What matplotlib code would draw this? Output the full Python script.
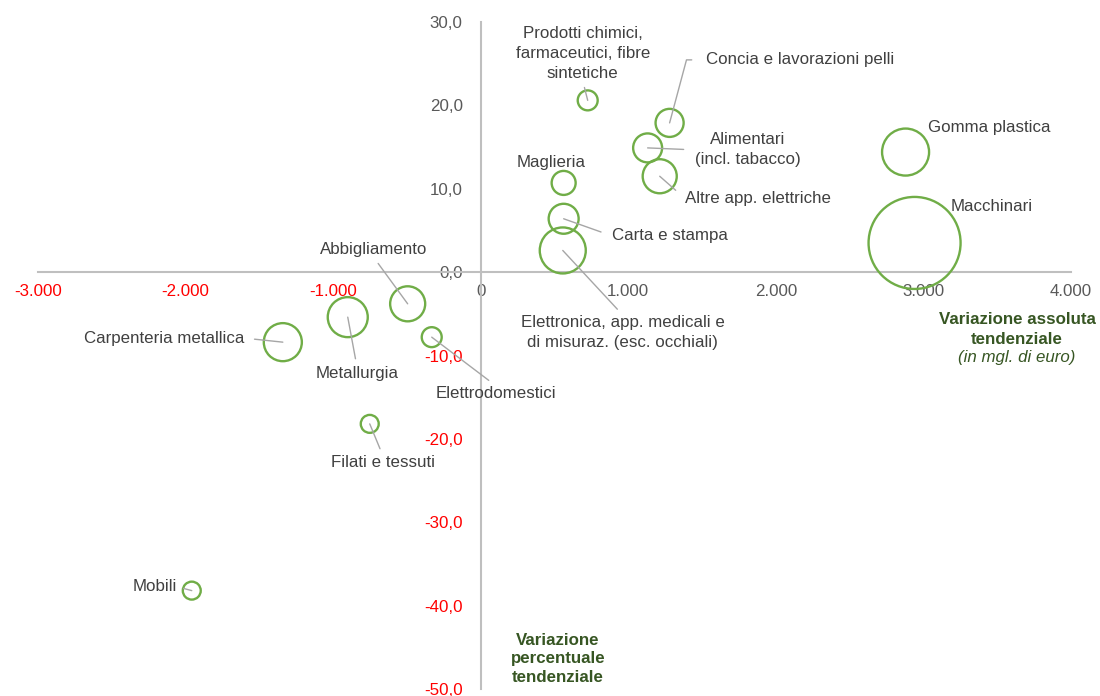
import numpy as np
import matplotlib.pyplot as plt
from matplotlib.ticker import FuncFormatter

# Dati: variazione assoluta (mgl. euro), variazione percentuale, dimensione bolla
settori = ['Mobili', 'Filati e tessuti', 'Carpenteria metallica', 'Metallurgia',
           'Abbigliamento', 'Elettrodomestici',
           'Elettronica, app. medicali e\ndi misuraz. (esc. occhiali)',
           'Carta e stampa', 'Maglieria',
           'Prodotti chimici,\nfarmaceutici, fibre\nsintetiche',
           'Concia e lavorazioni pelli', 'Alimentari\n(incl. tabacco)',
           'Altre app. elettriche', 'Gomma plastica', 'Macchinari']
var_assoluta = [-1958, -752, -1341, -901, -495, -332, 556, 562, 562, 725,
                1280, 1131, 1213, 2879, 2940]
var_percentuale = [-38.2, -18.2, -8.4, -5.4, -3.8, -7.8, 2.6, 6.4, 10.7, 20.6,
                   17.9, 14.9, 11.5, 14.4, 3.5]
dimensione = [3.8, 3.8, 17.1, 18.9, 14.5, 4.7, 25.0, 10.6, 6.8, 4.7,
              9.3, 9.9, 13.7, 26.1, 100.0]

x_ticks = [-3000, -2000, -1000, 0, 1000, 2000, 3000, 4000]
y_ticks = [-50, -40, -30, -20, -10, 0, 10, 20, 30]

# posizione etichette: offset in pixel, allineamento, punto di partenza della linea guida
layout = [
    (-15, 4, 'right', (1, 0.5), 3, 'arc3'),
    (13, -39, 'center', (0.5, 1), 3, 'arc3'),
    (-38, 4, 'right', (1, 0.5), 5, 'arc3'),
    (9, -56, 'center', (0.5, 1), 3, 'arc3'),
    (-34, 54, 'center', (0.5, 0), 3, 'arc3'),
    (64, -56, 'center', (0.5, 1), 3, 'arc3'),
    (60, -82, 'center', (0.5, 1), 3, 'arc3'),
    (48, -17, 'left', (0, 0.5), 6, 'arc3'),
    (-13, 20, 'center', None, 0, 'arc3'),
    (-5, 47, 'center', (0.5, 0), 3, 'arc3'),
    (36, 63, 'left', (0, 0.5), 8, 'angle,angleA=0,angleB=75,rad=0'),
    (100, -2, 'center', (0, 0.5), 6, 'arc3'),
    (25, -22, 'left', (0, 0.5), 6, 'arc3'),
    (22, 25, 'left', None, 0, 'arc3'),
    (36, 36, 'left', None, 0, 'arc3'),
]

plt.rcParams['font.family'] = ['Liberation Sans', 'DejaVu Sans']
testo = '#404040'
verde = '#70AD47'
asse = '#BFBFBF'

fig = plt.figure(figsize=(11, 6.96), dpi=100)
ax = fig.add_axes([38 / 1100, 7 / 696, 1033 / 1100, 667 / 696])
ax.set_xlim(-3000, 4000)
ax.set_ylim(-50, 30)

dim = np.array(dimensione)
ax.scatter(var_assoluta, var_percentuale, s=dim * 43.9, facecolors='none',
           edgecolors=verde, linewidths=1.7, zorder=3, clip_on=False)

for i, nome in enumerate(settori):
    dx, dy, ha, rel, shr, conn = layout[i]
    props = None
    if rel is not None:
        props = dict(arrowstyle='-', color='#A6A6A6', lw=1.0, relpos=rel,
                     shrinkA=shr, shrinkB=0, connectionstyle=conn)
    ax.annotate(nome, (var_assoluta[i], var_percentuale[i]), xytext=(dx, dy),
                textcoords='offset pixels', ha=ha, va='center',
                multialignment='center', fontsize=12.2, color=testo,
                linespacing=1.4, arrowprops=props, zorder=4)

for s in ['top', 'right']:
    ax.spines[s].set_visible(False)
for s in ['left', 'bottom']:
    ax.spines[s].set_position(('data', 0))
    ax.spines[s].set_color(asse)
    ax.spines[s].set_linewidth(1.5)

ax.set_xticks(x_ticks)
ax.set_yticks(y_ticks)
ax.xaxis.set_major_formatter(FuncFormatter(lambda v, p: f'{v:,.0f}'.replace(',', '.')))
ax.yaxis.set_major_formatter(FuncFormatter(lambda v, p: f'{v:.1f}'.replace('.', ',')))
ax.tick_params(axis='x', length=0, pad=8.5, labelsize=12.2)
ax.tick_params(axis='y', length=0, pad=13, labelsize=12.2)
for lbl, v in zip(ax.get_xticklabels(), x_ticks):
    lbl.set_color('#FF0000' if v < 0 else '#595959')
for lbl, v in zip(ax.get_yticklabels(), y_ticks):
    lbl.set_color('#FF0000' if v < 0 else '#595959')

fig.text(1017 / 1100, 1 - 329.5 / 696, 'Variazione assoluta\ntendenziale',
         ha='center', va='center', fontsize=12.2, fontweight='bold',
         color='#375623', linespacing=1.35)
fig.text(1017 / 1100, 1 - 357 / 696, '(in mgl. di euro)', ha='center',
         va='center', fontsize=12.2, style='italic', color='#375623')
fig.text(558 / 1100, 1 - 659 / 696, 'Variazione\npercentuale\ntendenziale',
         ha='center', va='center', fontsize=12.2, fontweight='bold',
         color='#375623', linespacing=1.3)

fig.savefig('out.png', dpi=100)
